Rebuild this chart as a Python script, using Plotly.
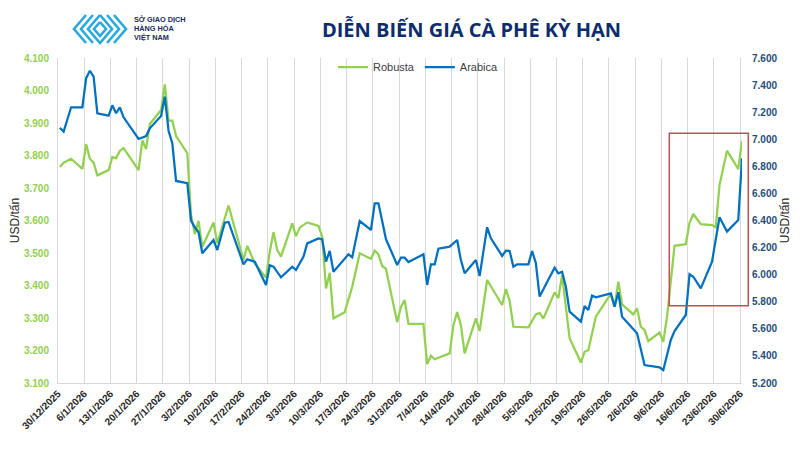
import plotly.graph_objects as go

# ---------------- data ----------------
robusta_dates = [
    "2025-12-30", "2025-12-31", "2026-01-02", "2026-01-05", "2026-01-06", "2026-01-07", "2026-01-08",
    "2026-01-09", "2026-01-12", "2026-01-13", "2026-01-14", "2026-01-15", "2026-01-16", "2026-01-20",
    "2026-01-21", "2026-01-22", "2026-01-23", "2026-01-26", "2026-01-27", "2026-01-28", "2026-01-29",
    "2026-01-30", "2026-02-02", "2026-02-03", "2026-02-04", "2026-02-05", "2026-02-06", "2026-02-09",
    "2026-02-10", "2026-02-12", "2026-02-13", "2026-02-17", "2026-02-18", "2026-02-20", "2026-02-23",
    "2026-02-24", "2026-02-25", "2026-02-26", "2026-02-27", "2026-03-02", "2026-03-03", "2026-03-04",
    "2026-03-06", "2026-03-09", "2026-03-10", "2026-03-11", "2026-03-12", "2026-03-13", "2026-03-16",
    "2026-03-18", "2026-03-20", "2026-03-23", "2026-03-24", "2026-03-25", "2026-03-26", "2026-03-27",
    "2026-03-30", "2026-03-31", "2026-04-01", "2026-04-02", "2026-04-06", "2026-04-07", "2026-04-08",
    "2026-04-09", "2026-04-13", "2026-04-14", "2026-04-15", "2026-04-16", "2026-04-17", "2026-04-20",
    "2026-04-21", "2026-04-23", "2026-04-27", "2026-04-28", "2026-04-29", "2026-04-30", "2026-05-04",
    "2026-05-06", "2026-05-07", "2026-05-08", "2026-05-11", "2026-05-12", "2026-05-13", "2026-05-15",
    "2026-05-18", "2026-05-19", "2026-05-20", "2026-05-22", "2026-05-26", "2026-05-27", "2026-05-28",
    "2026-05-29", "2026-06-01", "2026-06-02", "2026-06-03", "2026-06-04", "2026-06-05", "2026-06-08",
    "2026-06-09", "2026-06-10", "2026-06-12", "2026-06-15", "2026-06-16", "2026-06-17", "2026-06-19",
    "2026-06-22", "2026-06-23", "2026-06-24", "2026-06-26", "2026-06-29", "2026-06-30",
]
robusta_usd = [
    3765, 3778, 3790, 3759, 3835, 3790, 3778,
    3739, 3755, 3795, 3792, 3814, 3823, 3755,
    3846, 3820, 3897, 3940, 4019, 3907, 3907,
    3860, 3807, 3617, 3558, 3599, 3519, 3594,
    3530, 3609, 3646, 3478, 3522, 3468, 3424,
    3504, 3564, 3509, 3489, 3591, 3552, 3578,
    3594, 3583, 3550, 3391, 3439, 3299, 3318,
    3396, 3499, 3482, 3507, 3496, 3460, 3451,
    3287, 3335, 3355, 3282, 3282, 3158, 3184,
    3173, 3191, 3278, 3318, 3278, 3191, 3299,
    3260, 3417, 3340, 3389, 3353, 3273, 3271,
    3311, 3316, 3298, 3379, 3361, 3432, 3238,
    3163, 3196, 3201, 3304, 3374, 3335, 3412,
    3342, 3311, 3330, 3273, 3263, 3229, 3255,
    3227, 3304, 3522, 3527, 3593, 3620, 3589,
    3586, 3579, 3709, 3815, 3758, 3845,
]

arabica_dates = [
    "2025-12-30", "2025-12-31", "2026-01-02", "2026-01-05", "2026-01-06", "2026-01-07", "2026-01-08",
    "2026-01-09", "2026-01-12", "2026-01-13", "2026-01-14", "2026-01-15", "2026-01-16", "2026-01-20",
    "2026-01-22", "2026-01-23", "2026-01-26", "2026-01-27", "2026-01-28", "2026-01-29", "2026-01-30",
    "2026-02-02", "2026-02-03", "2026-02-04", "2026-02-05", "2026-02-06", "2026-02-09", "2026-02-10",
    "2026-02-12", "2026-02-13", "2026-02-17", "2026-02-18", "2026-02-20", "2026-02-23", "2026-02-24",
    "2026-02-25", "2026-02-27", "2026-03-02", "2026-03-03", "2026-03-05", "2026-03-06", "2026-03-09",
    "2026-03-10", "2026-03-11", "2026-03-12", "2026-03-13", "2026-03-17", "2026-03-18", "2026-03-20",
    "2026-03-23", "2026-03-24", "2026-03-25", "2026-03-27", "2026-03-30", "2026-03-31", "2026-04-01",
    "2026-04-02", "2026-04-06", "2026-04-07", "2026-04-08", "2026-04-09", "2026-04-10", "2026-04-13",
    "2026-04-15", "2026-04-16", "2026-04-17", "2026-04-20", "2026-04-21", "2026-04-23", "2026-04-24",
    "2026-04-27", "2026-04-28", "2026-04-29", "2026-04-30", "2026-05-01", "2026-05-04", "2026-05-05",
    "2026-05-06", "2026-05-07", "2026-05-11", "2026-05-12", "2026-05-13", "2026-05-14", "2026-05-15",
    "2026-05-18", "2026-05-19", "2026-05-20", "2026-05-21", "2026-05-22", "2026-05-26", "2026-05-27",
    "2026-05-28", "2026-05-29", "2026-06-02", "2026-06-04", "2026-06-08", "2026-06-09", "2026-06-11",
    "2026-06-12", "2026-06-15", "2026-06-16", "2026-06-17", "2026-06-19", "2026-06-22", "2026-06-24",
    "2026-06-26", "2026-06-29", "2026-06-30",
]
arabica_usd = [
    7085, 7056, 7236, 7236, 7450, 7506, 7462,
    7192, 7174, 7251, 7192, 7236, 7162, 7002,
    7024, 7081, 7172, 7314, 7063, 6970, 6692,
    6675, 6399, 6350, 6313, 6158, 6256, 6182,
    6384, 6389, 6076, 6113, 6096, 5924, 6069,
    6059, 5980, 6059, 6034, 6133, 6231, 6268,
    6261, 6096, 6175, 6022, 6150, 6128, 6396,
    6330, 6527, 6527, 6263, 6071, 6125, 6125,
    6093, 6150, 5924, 6076, 6076, 6192, 6207,
    6256, 6108, 6010, 6108, 5990, 6350, 6268,
    6138, 6177, 6175, 6059, 6076, 6076, 6175,
    6084, 5838, 6052, 6010, 6022, 5911, 5727,
    5653, 5769, 5739, 5845, 5833, 5862, 5763,
    5870, 5690, 5567, 5333, 5316, 5296, 5518,
    5584, 5702, 6003, 5985, 5899, 6096, 6424,
    6318, 6404, 6859,
]

series_names = ["Robusta", "Arabica"]
title_text = "DIỄN BIẾN GIÁ CÀ PHÊ KỲ HẠN"
axis_title = "USD/tấn"
logo_lines = ["SỞ GIAO DỊCH", "HÀNG HÓA", "VIỆT NAM"]

# ---------------- layout helpers ----------------
W, H = 800, 450
PL, PR, PT, PB = 58, 742, 58, 383


def px(x):
    return (x - PL) / (PR - PL)


def py(y):
    return (PB - y) / (PB - PT)


GREEN = "#92D050"
BLUE = "#0070C0"
NAVY = "#0D2C6C"
AXFONT = "Liberation Sans, Arial, sans-serif"

fig = go.Figure()
fig.add_trace(go.Scatter(
    x=robusta_dates, y=robusta_usd, name=series_names[0], mode="lines",
    line=dict(color=GREEN, width=2.25), xperiod=86400000, xperiodalignment="middle",
    yaxis="y", hoverinfo="skip"))
fig.add_trace(go.Scatter(
    x=arabica_dates, y=arabica_usd, name=series_names[1], mode="lines",
    line=dict(color=BLUE, width=2.25), xperiod=86400000, xperiodalignment="middle",
    yaxis="y2", hoverinfo="skip"))

# logo glyph (approximate chevron mark)
logo_paths = [
    [(86, 15), (74, 29), (86, 43)],
    [(93, 15), (81, 29), (93, 43)],
    [(100, 15), (88, 29), (100, 43), (112, 29), (100, 15)],
    [(100, 22), (94, 29), (100, 36), (106, 29), (100, 22)],
    [(107, 15), (119, 29), (107, 43)],
    [(114, 15), (126, 29), (114, 43)],
]
shapes = []
for pts in logo_paths:
    d = "M" + " L".join(f"{px(a):.5f},{py(b):.5f}" for a, b in pts)
    shapes.append(dict(type="path", xref="paper", yref="paper", path=d,
                       line=dict(color="#29A8E0", width=2.6), layer="above"))

# highlight rectangle
shapes.append(dict(type="rect", xref="paper", yref="paper",
                   x0=px(669.3), x1=px(748.3), y0=py(305.7), y1=py(133.3),
                   line=dict(color="#C0504D", width=1.5), fillcolor="rgba(0,0,0,0)"))

annotations = []
for i, t in enumerate(logo_lines):
    annotations.append(dict(
        text=t, xref="paper", yref="paper", x=px(133), y=py(19.6 + i * 8.9),
        xanchor="left", yanchor="middle", showarrow=False, borderpad=0,
        font=dict(family=AXFONT, size=7.3, color="#1B2A5C", weight="bold")))

fig.update_layout(
    width=W, height=H,
    margin=dict(l=PL, r=W - PR, t=PT, b=H - PB, pad=0),
    paper_bgcolor="white", plot_bgcolor="white",
    template="none",
    separators=",.",
    font=dict(family=AXFONT, color="#262626"),
    title=dict(text=title_text, x=471.5 / W, xanchor="center", xref="container",
               y=1 - 30 / H, yanchor="middle", yref="container",
               font=dict(family="Open Sans", size=20, color=NAVY, weight="bold")),
    showlegend=True,
    legend=dict(orientation="h", x=px(333), xanchor="left", y=py(67), yanchor="middle",
                bgcolor="rgba(0,0,0,0)", font=dict(family=AXFONT, size=11, color="#404040"),
                itemwidth=30, traceorder="normal"),
    xaxis=dict(
        type="date", range=["2025-12-30", "2026-06-30 12:00"],
        tick0="2025-12-30", dtick=7 * 86400000, tickformat="%-d/%-m/%Y", tickangle=-45,
        showgrid=True, gridcolor="#D9D9D9", gridwidth=1,
        showline=True, linecolor="#D9D9D9", linewidth=1, zeroline=False,
        ticks="", automargin=False,
        tickfont=dict(family=AXFONT, size=10, color="#262626", weight="bold")),
    yaxis=dict(
        range=[3100, 4100], tick0=3100, dtick=100, tickformat=",d",
        showgrid=False, showline=True, linecolor="#D9D9D9", linewidth=1, zeroline=False,
        ticks="", ticklabelstandoff=6, automargin=False,
        tickfont=dict(family=AXFONT, size=10, color=GREEN, weight="bold"),
        title=dict(text=axis_title, standoff=1, font=dict(family=AXFONT, size=12, color="#262626"))),
    yaxis2=dict(
        range=[5200, 7600], tick0=5200, dtick=200, tickformat=",d",
        overlaying="y", side="right",
        showgrid=False, showline=False, zeroline=False,
        ticks="", ticklabelstandoff=9, automargin=False,
        tickfont=dict(family=AXFONT, size=10, color="#1F4E79", weight="bold"),
        title=dict(text=axis_title, standoff=4, font=dict(family=AXFONT, size=12, color="#262626"))),
    shapes=shapes,
    annotations=annotations,
)

fig.write_html("out.html")
